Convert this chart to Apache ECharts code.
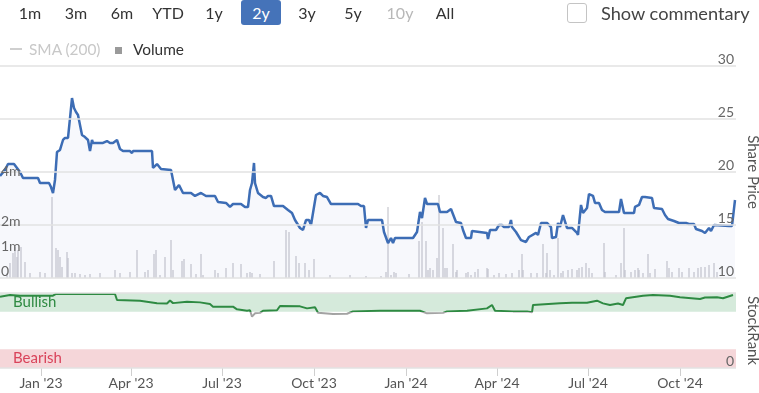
<!DOCTYPE html>
<html><head><meta charset="utf-8">
<script src="https://cdn.jsdelivr.net/npm/echarts@6/dist/echarts.min.js"></script>
<style>
html,body{margin:0;padding:0;background:#fff;font-family:Lato,"Open Sans",sans-serif;}
#chart{position:absolute;left:0;top:0;width:759px;height:393px;}
.ov{position:absolute;left:0;top:0;white-space:nowrap;pointer-events:none;}
.btn{position:absolute;top:2px;height:22px;line-height:22px;font-size:16px;color:#333;transform:translateX(-50%);}
</style></head>
<body>
<div id="chart"></div>
<div class="ov" id="hdr"></div>
<script>
// ---------- data ----------
const rangeButtons = ['1m','3m','6m','YTD','1y','2y','3y','5y','10y','All'];
const legendNames = ['SMA (200)','Volume'];

const priceDates = ['2022-11-21','2022-11-26','2022-11-29','2022-12-05','2022-12-08','2022-12-11','2022-12-14','2022-12-29','2022-12-31','2023-01-09','2023-01-11','2023-01-13','2023-01-15','2023-01-17','2023-01-20','2023-01-23','2023-01-25','2023-01-28','2023-01-30','2023-02-01','2023-02-03','2023-02-05','2023-02-07','2023-02-11','2023-02-14','2023-02-16','2023-02-17','2023-02-19','2023-02-21','2023-02-22','2023-03-04','2023-03-06','2023-03-08','2023-03-11','2023-03-14','2023-03-18','2023-03-21','2023-03-24','2023-03-31','2023-04-02','2023-04-03','2023-04-22','2023-04-23','2023-04-27','2023-05-01','2023-05-11','2023-05-15','2023-05-19','2023-05-23','2023-05-31','2023-06-04','2023-06-10','2023-06-15','2023-06-24','2023-06-27','2023-07-05','2023-07-09','2023-07-12','2023-07-20','2023-07-24','2023-07-27','2023-07-29','2023-07-31','2023-08-02','2023-08-03','2023-08-06','2023-08-11','2023-08-14','2023-08-16','2023-08-19','2023-08-22','2023-08-31','2023-09-05','2023-09-09','2023-09-12','2023-09-17','2023-09-20','2023-09-23','2023-09-26','2023-09-28','2023-09-30','2023-10-03','2023-10-07','2023-10-10','2023-10-14','2023-10-18','2023-11-14','2023-11-17','2023-11-20','2023-11-22','2023-11-24','2023-12-08','2023-12-10','2023-12-14','2023-12-17','2023-12-19','2023-12-21','2024-01-08','2024-01-12','2024-01-15','2024-01-17','2024-01-20','2024-01-22','2024-02-02','2024-02-04','2024-02-11','2024-02-15','2024-02-17','2024-02-20','2024-02-25','2024-02-27','2024-03-01','2024-03-06','2024-03-07','2024-03-22','2024-03-23','2024-03-25','2024-03-31','2024-04-03','2024-04-06','2024-04-08','2024-04-13','2024-04-15','2024-04-16','2024-04-20','2024-04-25','2024-04-30','2024-05-03','2024-05-10','2024-05-12','2024-05-15','2024-05-21','2024-05-25','2024-05-26','2024-05-30','2024-06-01','2024-06-03','2024-06-06','2024-06-10','2024-06-15','2024-06-20','2024-06-21','2024-06-24','2024-06-26','2024-06-30','2024-07-02','2024-07-06','2024-07-08','2024-07-12','2024-07-15','2024-07-18','2024-08-01','2024-08-03','2024-08-06','2024-08-16','2024-08-17','2024-08-21','2024-08-24','2024-08-27','2024-08-29','2024-09-03','2024-09-05','2024-09-13','2024-09-16','2024-09-19','2024-09-25','2024-09-30','2024-10-02','2024-10-07','2024-10-10','2024-10-15','2024-10-17','2024-10-23','2024-10-26','2024-10-30','2024-11-01','2024-11-04','2024-11-19','2024-11-22','2024-11-24','2024-11-25'];
const priceValues = [19.62,20.19,20.75,20.75,20.38,20.00,19.43,19.43,18.96,18.96,18.58,18.02,19.25,21.89,22.08,23.02,23.21,23.21,25.09,26.98,26.04,25.66,25.38,23.49,23.30,23.30,23.02,21.98,23.02,22.74,22.74,22.92,22.92,22.74,22.74,23.02,22.17,21.98,21.98,21.79,21.98,21.98,20.38,20.75,20.28,20.19,18.30,18.77,18.02,18.02,17.74,18.02,17.74,17.74,17.17,17.08,16.70,16.98,16.98,16.70,16.70,18.30,18.96,20.85,18.96,18.02,17.64,17.55,17.74,17.74,16.79,16.79,16.42,16.13,15.47,14.72,14.53,15.47,15.47,15.00,15.00,17.83,18.02,17.74,17.64,16.98,16.98,16.79,16.79,14.72,15.47,15.47,14.34,13.30,13.77,13.30,13.77,13.77,14.34,16.23,15.66,17.55,16.98,16.98,16.23,16.23,16.51,16.42,15.28,15.19,14.53,13.77,13.77,14.43,14.25,13.68,14.53,14.53,15.00,15.00,14.81,14.81,15.47,14.81,14.34,13.58,13.40,13.87,14.25,14.06,15.19,15.19,14.81,13.77,13.87,15.19,14.81,15.94,14.72,14.72,14.25,14.06,16.89,16.13,16.60,17.92,17.74,17.08,17.08,16.42,16.23,16.23,17.45,16.13,16.13,16.70,16.89,17.64,17.64,17.55,17.55,16.60,16.51,15.94,15.57,15.38,15.19,15.09,15.19,15.09,15.09,14.62,14.43,14.25,14.72,14.43,15.00,14.91,14.91,15.00,17.36];

const volumeDates = ['2022-11-28','2022-12-01','2022-12-04','2022-12-06','2022-12-08','2022-12-09','2022-12-12','2022-12-16','2022-12-21','2022-12-31','2023-01-05','2023-01-12','2023-01-16','2023-01-18','2023-01-20','2023-01-22','2023-01-27','2023-01-28','2023-02-01','2023-02-04','2023-02-09','2023-02-14','2023-02-19','2023-03-01','2023-03-16','2023-03-21','2023-03-31','2023-04-07','2023-04-15','2023-04-18','2023-04-24','2023-04-26','2023-04-30','2023-05-05','2023-05-11','2023-05-13','2023-05-22','2023-05-24','2023-05-31','2023-06-05','2023-06-10','2023-06-12','2023-06-24','2023-06-27','2023-07-05','2023-07-12','2023-07-20','2023-07-26','2023-07-29','2023-07-31','2023-08-08','2023-08-22','2023-09-03','2023-09-06','2023-09-13','2023-09-16','2023-09-22','2023-09-26','2023-10-01','2023-10-17','2023-11-06','2023-11-22','2023-12-07','2023-12-12','2023-12-14','2023-12-17','2023-12-20','2023-12-22','2024-01-04','2024-01-14','2024-01-17','2024-01-21','2024-01-23','2024-01-25','2024-01-28','2024-02-01','2024-02-03','2024-02-07','2024-02-09','2024-02-11','2024-02-17','2024-02-20','2024-02-21','2024-03-01','2024-03-03','2024-03-06','2024-03-10','2024-03-13','2024-03-22','2024-03-23','2024-03-29','2024-04-03','2024-04-10','2024-04-16','2024-04-23','2024-04-26','2024-04-27','2024-05-05','2024-05-11','2024-05-17','2024-05-20','2024-05-21','2024-05-24','2024-05-28','2024-06-01','2024-06-04','2024-06-06','2024-06-11','2024-06-15','2024-06-20','2024-06-22','2024-06-25','2024-06-29','2024-07-02','2024-07-05','2024-07-17','2024-07-18','2024-07-29','2024-08-03','2024-08-06','2024-08-07','2024-08-13','2024-08-17','2024-08-20','2024-08-21','2024-08-25','2024-08-30','2024-09-01','2024-09-06','2024-09-18','2024-09-20','2024-09-23','2024-09-30','2024-10-03','2024-10-10','2024-10-15','2024-10-19','2024-10-22','2024-10-26','2024-10-30','2024-11-04','2024-11-07'];
const volumeValues = [0.20,0.60,1.00,1.24,0.84,1.12,1.24,0.64,0.20,0.24,0.20,3.24,1.20,1.12,0.84,0.44,1.04,0.80,0.20,0.20,0.16,0.12,0.16,0.20,0.32,0.20,0.24,1.12,0.24,0.32,0.96,1.12,0.12,0.84,1.52,0.32,0.68,0.76,0.56,0.16,0.96,0.12,0.32,0.20,0.40,0.60,0.56,0.20,0.24,0.20,0.16,0.68,1.92,1.84,0.88,0.60,0.60,0.32,0.76,0.12,0.12,0.08,0.08,0.24,2.84,0.12,0.24,0.20,0.16,1.48,2.24,1.48,0.32,0.40,0.32,0.80,3.32,2.00,0.40,0.40,1.36,0.24,0.32,0.20,0.24,0.12,0.24,0.36,0.40,0.36,0.12,0.20,0.16,0.20,0.32,0.96,0.32,0.20,0.20,1.36,0.20,1.00,0.32,0.12,1.60,0.20,0.28,0.32,0.36,0.32,0.40,0.44,0.60,0.40,0.20,1.40,0.24,0.12,0.60,2.00,0.32,0.24,0.32,0.40,0.32,0.20,0.96,0.20,0.36,0.68,0.40,0.24,0.40,0.24,0.40,0.24,0.40,0.44,0.44,0.52,0.60,0.24];

const rankDates = ['2022-11-21','2022-12-01','2022-12-11','2023-01-13','2023-01-15','2023-01-16','2023-03-16','2023-03-18','2023-04-10','2023-04-27','2023-05-07','2023-05-10','2023-05-13','2023-05-27','2023-06-09','2023-06-19','2023-06-22','2023-07-12','2023-07-16','2023-07-26','2023-07-29','2023-07-31','2023-08-03','2023-08-08','2023-08-11','2023-08-25','2023-08-28','2023-09-17','2023-09-24','2023-10-02','2023-10-05','2023-10-20','2023-11-03','2023-11-09','2023-12-06','2024-01-15','2024-01-17','2024-01-22','2024-02-07','2024-02-11','2024-03-02','2024-03-22','2024-03-27','2024-03-30','2024-04-17','2024-05-01','2024-05-06','2024-05-07','2024-06-03','2024-06-15','2024-06-16','2024-06-30','2024-07-10','2024-07-16','2024-07-23','2024-07-31','2024-08-05','2024-08-08','2024-08-25','2024-09-04','2024-09-21','2024-10-01','2024-10-21','2024-10-26','2024-11-07','2024-11-13','2024-11-23'];
const rankValues = [95,97.3,96.4,96.4,95,98.7,98.7,90.7,89.8,86.2,86,90,86.5,88.4,87.5,85.3,81.8,81.8,78.2,76.4,77,68.4,72.9,73.5,76.4,77,82.7,82.2,79.5,80.9,73.8,72,72.4,75.5,76.4,76.4,78.2,72.9,73.5,75.5,76.4,79.5,84,76.4,75.5,75.5,74.2,84,86.2,87,85.5,87,89.8,86.2,84,86,84,92.9,96.4,97.3,96.4,94.2,92,94,94.2,93,97.3];

const xTickDates = ['2023-01-01','2023-04-01','2023-07-01','2023-10-01','2024-01-01','2024-04-01','2024-07-01','2024-10-01'];
const xTickLabels = ["Jan '23","Apr '23","Jul '23","Oct '23","Jan '24","Apr '24","Jul '24","Oct '24"];
const priceTicks = [10,15,20,25,30];
const volumeTicks = [0,1,2,4];
const volumeTickLabels = ['0','1m','2m','4m'];
const rankTicks = [0];
const rankBands = {bullish:[75,100], bearish:[0,25]};
const rankGreenFrom = 75;
const xMin = '2022-11-21', xMax = '2024-11-26';

// ---------- header (HTML text) ----------
const hdr = document.getElementById('hdr');
const btnCenters = [30,76,122,168,214,261,307,353,400,445];
let html = '';
rangeButtons.forEach((b,i)=>{
  if (b==='2y') {
    html += `<div style="position:absolute;left:241px;top:0;width:40px;height:25px;background:#4573b9;border-radius:3px;color:#fff;font-size:16px;line-height:25px;text-align:center">${b}</div>`;
  } else {
    const col = b==='10y' ? '#b8b8b8' : '#333';
    html += `<div class="btn" style="left:${btnCenters[i]}px;color:${col}">${b}</div>`;
  }
});
html += `<div style="position:absolute;left:567px;top:3px;width:18px;height:18px;border:1px solid #c4c4c4;border-radius:3px"></div>`;
html += `<div style="position:absolute;left:601px;top:2px;font-size:18.2px;line-height:22px;color:#444">Show commentary</div>`;
html += `<div style="position:absolute;left:10px;top:48px;width:12px;height:1.5px;background:#cfcfcf"></div>`;
html += `<div style="position:absolute;left:29px;top:39px;font-size:15.4px;line-height:20px;color:#c8c8c8">${legendNames[0]}</div>`;
html += `<div style="position:absolute;left:115px;top:47px;width:7px;height:7px;background:#9a9a9a"></div>`;
html += `<div style="position:absolute;left:133px;top:39px;font-size:15.4px;line-height:20px;color:#333">${legendNames[1]}</div>`;
hdr.innerHTML = html;

// ---------- chart ----------
const chart = echarts.init(document.getElementById('chart'), null, {renderer:'canvas'});
const ts = d => echarts.time.parse(d).getTime();
const tickTimes = xTickDates.map(ts);
const FONT = 'Lato';

const option = {
  animation: false,
  textStyle: {fontFamily: FONT},
  grid: [
    {left: 0, right: 23, top: 66, height: 212, containLabel: false, outerBoundsMode: 'none'},
    {left: 0, right: 23, top: 293, height: 75, containLabel: false, outerBoundsMode: 'none'}
  ],
  xAxis: [
    {type:'value', gridIndex:0, min:ts(xMin), max:ts(xMax), axisLine:{show:false}, axisTick:{show:false}, axisLabel:{show:false}, splitLine:{show:false}},
    {type:'value', gridIndex:1, min:ts(xMin), max:ts(xMax),
      axisLine:{show:false},
      axisTick:{show:true, length:8, lineStyle:{color:'#cfcfcf'}, customValues: tickTimes},
      axisLabel:{show:true, customValues: tickTimes, margin:8, fontSize:14, color:'#555', fontFamily:FONT,
        formatter: v => { const i = tickTimes.indexOf(v); return i>=0 ? xTickLabels[i] : ''; }},
      splitLine:{show:false}}
  ],
  yAxis: [
    {type:'value', gridIndex:0, position:'right', z:5, min:priceTicks[0], max:priceTicks[priceTicks.length-1], interval:5,
      name:'Share Price', nameLocation:'middle', nameRotate:-90, nameGap:8,
      nameTextStyle:{fontSize:15, color:'#555', fontFamily:FONT},
      axisLine:{show:false}, axisTick:{show:false},
      axisLabel:{inside:true, margin:2, fontSize:14, color:'#666', verticalAlign:'bottom', fontFamily:FONT},
      splitLine:{show:true, lineStyle:{color:'#e2e2e2', width:1.5}}},
    {type:'value', gridIndex:1, position:'right', z:5, min:0, max:100, interval:100,
      name:'StockRank', nameLocation:'middle', nameRotate:-90, nameGap:8,
      nameTextStyle:{fontSize:15, color:'#555', fontFamily:FONT},
      axisLine:{show:false}, axisTick:{show:false},
      axisLabel:{inside:true, margin:2, fontSize:14, color:'#666', verticalAlign:'bottom', fontFamily:FONT,
        customValues: rankTicks, formatter: v => String(v)},
      splitLine:{show:true, lineStyle:{color:'#e2e2e2', width:1.5}}},
    {type:'value', gridIndex:0, position:'left', z:5, min:0, max:8.48,
      axisLine:{show:false}, axisTick:{show:false}, splitLine:{show:false},
      axisLabel:{inside:true, margin:1, fontSize:14, color:'#666', verticalAlign:'bottom', fontFamily:FONT,
        customValues: volumeTicks,
        formatter: v => { const i = volumeTicks.indexOf(v); return i>=0 ? volumeTickLabels[i] : ''; }}}
  ],
  series: [
    {name:'Price', type:'line', xAxisIndex:0, yAxisIndex:0, z:3, showSymbol:false, symbol:'none',
      data: priceDates.map((d,i)=>[ts(d), priceValues[i]]),
      lineStyle:{color:'#3d6db5', width:2.5},
      areaStyle:{color:'rgba(70,100,190,0.06)', origin:'start'}},
    {name:'Volume', type:'bar', xAxisIndex:0, yAxisIndex:2, z:2, barWidth:1.2,
      data: volumeDates.map((d,i)=>[ts(d), volumeValues[i]]),
      itemStyle:{color:'#c6c6cd'}},
    {name:'StockRank', type:'line', xAxisIndex:1, yAxisIndex:1, z:3, showSymbol:false, symbol:'none',
      data: rankDates.map((d,i)=>[ts(d), rankValues[i]]),
      lineStyle:{width:2, color:'#2e8a42'},
      markArea:{silent:true, z:1,
        data:[
          [{yAxis:rankBands.bullish[0], itemStyle:{color:'#d5eadb'}, name:'Bullish',
            label:{show:true, position:'insideLeft', offset:[8,0], color:'#2e8a42', fontSize:15, fontFamily:FONT}},
           {yAxis:rankBands.bullish[1]}],
          [{yAxis:rankBands.bearish[0], itemStyle:{color:'#f5d6d9'}, name:'Bearish',
            label:{show:true, position:'insideLeft', offset:[8,0], color:'#d9435a', fontSize:15, fontFamily:FONT}},
           {yAxis:rankBands.bearish[1]}]
        ]}}
  ]
};
chart.setOption(option);

// colour the StockRank line grey below the bullish threshold (gradient derived from the axis scale)
const yTop = chart.convertToPixel({yAxisIndex:1}, 100);
const yBot = chart.convertToPixel({yAxisIndex:1}, 0);
const yThr = chart.convertToPixel({yAxisIndex:1}, rankGreenFrom);
const f = (yThr - yTop) / (yBot - yTop);
chart.setOption({series:[{}, {}, {lineStyle:{color: new echarts.graphic.LinearGradient(0, yTop, 0, yBot, [
  {offset:0, color:'#2e8a42'}, {offset:f, color:'#2e8a42'}, {offset:f, color:'#a3a3a3'}, {offset:1, color:'#a3a3a3'}
], true)}}]});
</script>
</body></html>
